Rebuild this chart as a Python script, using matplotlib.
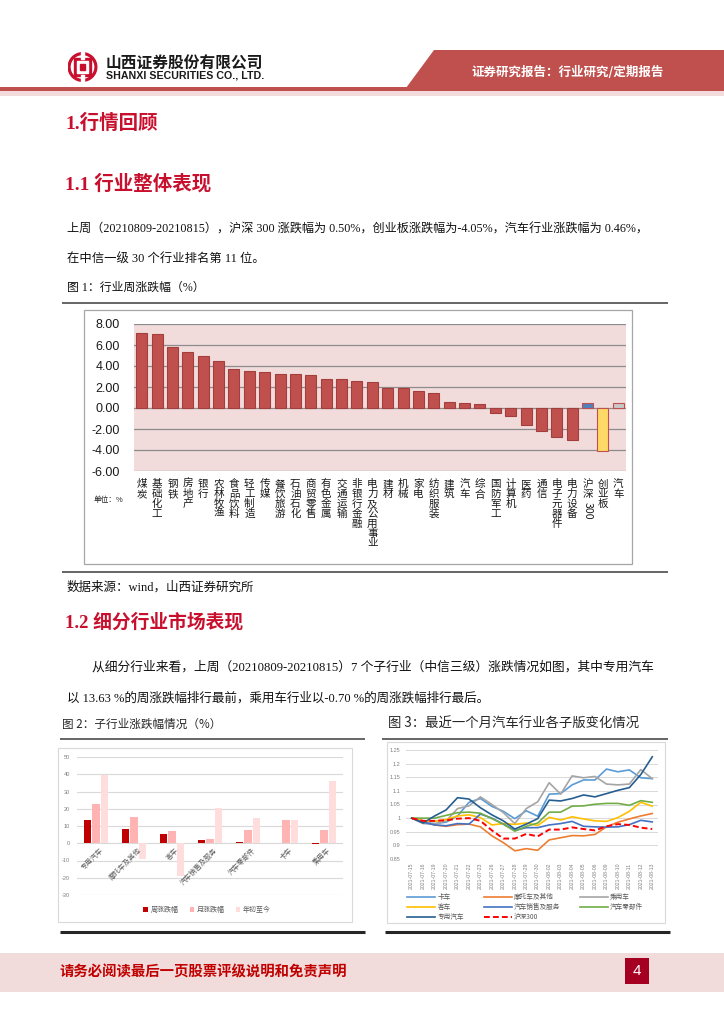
import matplotlib
matplotlib.use("Agg")
import matplotlib.pyplot as plt
from matplotlib.patches import Rectangle, Polygon, Circle
from matplotlib.lines import Line2D

W, H = 724, 1024
CJK = "Noto Sans CJK SC"
SERIF = ["Liberation Serif", CJK]
SANS = ["Liberation Sans", CJK]
plt.rcParams["font.family"] = SANS
plt.rcParams["axes.unicode_minus"] = False

# ---- data: figure 1, weekly change by CITIC level-1 industry (%)
industries = ["煤炭", "基础化工", "钢铁", "房地产", "银行", "农林牧渔", "食品饮料", "轻工制造",
              "传媒", "餐饮旅游", "石油石化", "商贸零售", "有色金属", "交通运输", "非银行金融",
              "电力及公用事业", "建材", "机械", "家电", "纺织服装", "建筑", "汽车", "综合",
              "国防军工", "计算机", "医药", "通信", "电子元器件", "电力设备", "沪深300", "创业板", "汽车"]
weekly_pct = [7.16, 7.09, 5.82, 5.31, 4.93, 4.49, 3.72, 3.53, 3.40, 3.25, 3.25, 3.18, 2.80, 2.74,
              2.58, 2.48, 1.91, 1.88, 1.65, 1.46, 0.60, 0.46, 0.38, -0.45, -0.76, -1.62, -2.16,
              -2.77, -3.02, 0.50, -4.05, 0.46]
fig1_ticks = [8.0, 6.0, 4.0, 2.0, 0.0, -2.0, -4.0, -6.0]

# ---- data: figure 2, sub-industry change (%)
sub_industries = ["专用汽车", "摩托车及其他", "客车", "汽车销售及服务", "汽车零部件", "卡车", "乘用车"]
sub_week = [13.63, 8.3, 5.4, 1.7, 0.9, 0.4, -0.70]
sub_month = [22.8, 15.5, 7.3, 2.3, 7.5, 13.7, 7.9]
sub_ytd = [39.3, -9.1, -19.1, 20.3, 14.5, 13.7, 36.0]
fig2_ticks = [50, 40, 30, 20, 10, 0, -10, -20, -30]

# ---- data: figure 3, sub-index levels over the last month
dates = ["2021-07-15", "2021-07-16", "2021-07-19", "2021-07-20", "2021-07-21", "2021-07-22",
         "2021-07-23", "2021-07-26", "2021-07-27", "2021-07-28", "2021-07-29", "2021-07-30",
         "2021-08-02", "2021-08-03", "2021-08-04", "2021-08-05", "2021-08-06", "2021-08-09",
         "2021-08-10", "2021-08-11", "2021-08-12", "2021-08-13"]
truck = [1.000, 0.985, 0.980, 0.985, 1.008, 1.058, 1.072, 1.043, 1.025, 0.998, 1.027, 1.007,
         1.088, 1.090, 1.122, 1.140, 1.140, 1.180, 1.170, 1.177, 1.148, 1.145]
moto = [1.000, 0.985, 0.975, 0.970, 0.976, 0.978, 0.968, 0.935, 0.910, 0.880, 0.888, 0.882,
        0.920, 0.928, 0.936, 0.935, 0.940, 0.968, 0.985, 0.997, 1.008, 1.017]
passenger = [1.000, 0.980, 0.978, 0.990, 1.035, 1.045, 1.078, 1.050, 1.020, 0.980, 1.035, 1.060,
             1.130, 1.088, 1.155, 1.148, 1.153, 1.125, 1.122, 1.125, 1.178, 1.145]
bus = [1.000, 0.990, 0.988, 0.995, 1.008, 1.012, 1.002, 0.975, 0.980, 0.977, 0.982, 0.973,
       1.003, 0.993, 1.005, 0.997, 0.990, 0.988, 1.002, 1.025, 1.058, 1.044]
sales = [1.000, 0.985, 0.975, 0.972, 0.980, 0.978, 1.015, 1.000, 0.978, 0.955, 0.965, 0.965,
         0.975, 0.980, 0.988, 0.970, 0.968, 0.967, 0.968, 0.976, 0.992, 0.986]
parts = [1.000, 1.000, 1.000, 1.010, 1.020, 1.022, 1.018, 0.998, 0.978, 0.952, 0.970, 0.982,
         1.022, 1.022, 1.044, 1.045, 1.051, 1.054, 1.054, 1.047, 1.064, 1.058]
special = [1.000, 0.982, 1.008, 1.030, 1.075, 1.070, 1.038, 1.012, 0.990, 0.960, 0.978, 0.998,
           1.066, 1.063, 1.072, 1.085, 1.078, 1.090, 1.102, 1.112, 1.160, 1.225]
hs300 = [1.000, 0.990, 0.990, 0.992, 0.998, 1.000, 0.990, 0.955, 0.925, 0.925, 0.942, 0.933,
         0.958, 0.958, 0.966, 0.960, 0.955, 0.970, 0.978, 0.975, 0.965, 0.960]
fig3_ticks = [0.85, 0.9, 0.95, 1.0, 1.05, 1.1, 1.15, 1.2, 1.25]
fig3_tick_labels = ["0.85", "0.9", "0.95", "1", "1.05", "1.1", "1.15", "1.2", "1.25"]

RED = "#C0504D"
CRIMSON = "#C8102E"

fig = plt.figure(figsize=(W / 100, H / 100), dpi=100)
renderer = fig.canvas.get_renderer()


def box(x0, y0, x1, y1):
    return [x0 / W, 1 - y1 / H, (x1 - x0) / W, (y1 - y0) / H]


def ftext(x, y, s, **kw):
    kw.setdefault("va", "center")
    return fig.text(x / W, 1 - y / H, s, **kw)


def fit_text(x0, x1, y, s, size, **kw):
    t = ftext(x0, y, s, fontsize=size, **kw)
    w = t.get_window_extent(renderer).width
    t.set_fontsize(size * (x1 - x0) / w)
    return t


def hline(x0, x1, y, color, lw):
    fig.add_artist(Line2D([x0 / W, x1 / W], [1 - y / H, 1 - y / H], color=color, lw=lw,
                          transform=fig.transFigure, solid_capstyle="butt"))


def rect(x0, y0, x1, y1, **kw):
    kw.setdefault("zorder", -1)
    fig.add_artist(Rectangle((x0 / W, 1 - y1 / H), (x1 - x0) / W, (y1 - y0) / H,
                             transform=fig.transFigure, **kw))


# ---- page header
logo = fig.add_axes(box(67, 52, 98, 82))
logo.set_xlim(-1.05, 1.05)
logo.set_ylim(-1.05, 1.05)
logo.set_aspect("equal")
logo.axis("off")
logo.add_patch(Circle((0, 0), 1.0, color="#C8102E"))
logo.add_patch(Circle((0, 0), 0.78, color="white"))
logo.add_patch(Rectangle((-0.6, -0.6), 1.2, 1.2, color="#C8102E"))
logo.add_patch(Rectangle((-0.4, -0.4), 0.8, 0.8, color="white"))
logo.add_patch(Rectangle((-0.2, -0.2), 0.4, 0.4, color="#C8102E"))
logo.add_patch(Rectangle((-0.12, 0.55), 0.24, 0.5, color="white"))
logo.add_patch(Rectangle((-0.12, -1.05), 0.24, 0.5, color="white"))

fit_text(106, 263, 64, "山西证券股份有限公司", 11, family=CJK, fontweight="bold", color="#1a1a1a")
fit_text(106, 263, 76, "SHANXI SECURITIES CO., LTD.", 7, family="Liberation Sans",
         fontweight="bold", color="#1a1a1a")

fig.add_artist(Polygon([(434 / W, 1 - 50 / H), (1, 1 - 50 / H), (1, 1 - 88 / H), (406 / W, 1 - 88 / H)],
                       closed=True, transform=fig.transFigure, color=RED, lw=0))
fit_text(471, 664, 72, "证券研究报告：行业研究/定期报告", 9.5, family=CJK, fontweight="bold",
         color="white")
rect(0, 87, W, 91, color=RED, lw=0, zorder=1)
rect(0, 91, W, 96, color="#F2DCDB", lw=0)

# ---- section text
ftext(65, 123, "1.行情回顾", fontsize=14, family=SERIF, fontweight="bold", color=CRIMSON)
ftext(65, 184, "1.1 行业整体表现", fontsize=14, family=SERIF, fontweight="bold", color=CRIMSON)
fit_text(67, 650, 230, "上周（20210809-20210815），沪深 300 涨跌幅为 0.50%，创业板涨跌幅为-4.05%，"
         "汽车行业涨跌幅为 0.46%，", 9.5, family=SERIF, color="#111111")
fit_text(67, 265, 260, "在中信一级 30 个行业排名第 11 位。", 9.5, family=SERIF, color="#111111")
fit_text(67, 205, 288, "图 1：行业周涨跌幅（%）", 9.5, family=SERIF, color="#111111")
hline(62, 668, 303, "#595959", 1.3)

# ---- figure 1
rect(84, 310, 632, 564, facecolor="white", edgecolor="#A6A6A6", lw=0.9)
ax1 = fig.add_axes(box(134, 324, 626, 471))
colors1 = [RED] * len(industries)
colors1[-3] = "#4F81BD"
colors1[-2] = "#FFD966"
colors1[-1] = "#C8C8C8"
edges1 = ["#A23E3B"] * (len(industries) - 3) + [RED] * 3
x1 = list(range(len(industries)))
ax1.bar(x1, weekly_pct, width=0.72, color=colors1, edgecolor=edges1, linewidth=0.8, zorder=3)
ax1.set_facecolor("#F2DCDB")
ax1.set_xlim(-0.5, len(industries) - 0.5)
ax1.set_ylim(-6, 8)
ax1.set_yticks(fig1_ticks)
ax1.set_yticklabels([f"{v:.2f}" for v in fig1_ticks], fontsize=9, color="#1a1a1a")
ax1.yaxis.grid(True, color="#8C8C8C", lw=0.9)
ax1.set_axisbelow(True)
for s in ax1.spines.values():
    s.set_visible(False)
labels1 = ["\n".join(n) for n in industries]
labels1[-3] = "沪\n深"
ax1.set_xticks(x1)
ax1.set_xticklabels(labels1, fontsize=7.6, family=CJK, linespacing=0.98, va="top", color="#1a1a1a")
ax1.tick_params(axis="both", length=0)
ax1.tick_params(axis="x", pad=6)
ax1.tick_params(axis="y", pad=10)
ax1.text(len(industries) - 3, -0.268, "300", transform=ax1.get_xaxis_transform(), rotation=270,
         ha="center", va="center", fontsize=7.6, family=CJK, color="#1a1a1a")
ftext(94, 500, "单位：%", fontsize=5.5, family=CJK, color="#1a1a1a")

hline(62, 668, 572, "#595959", 1.3)
fit_text(67, 256, 587, "数据来源：wind，山西证券研究所", 9.5, family=SERIF, color="#111111")

ftext(65, 622, "1.2 细分行业市场表现", fontsize=13.5, family=SERIF, fontweight="bold", color=CRIMSON)
fit_text(92, 658, 667, "从细分行业来看，上周（20210809-20210815）7 个子行业（中信三级）涨跌情况如图，"
         "其中专用汽车", 9.5, family=SERIF, color="#111111")
fit_text(67, 493, 698, "以 13.63 %的周涨跌幅排行最前，乘用车行业以-0.70 %的周涨跌幅排行最后。", 9.5,
         family=SERIF, color="#111111")

# ---- figure 2
fit_text(62, 222, 724, "图 2：子行业涨跌幅情况（%）", 9.5, family=CJK, color="#262626")
hline(60, 365, 739, "#595959", 1.3)
rect(58, 748, 352, 922, facecolor="white", edgecolor="#D9D9D9", lw=0.8)
ax2 = fig.add_axes(box(77, 757, 343, 895))
ax2.patch.set_alpha(0)
x2 = list(range(len(sub_industries)))
bw = 0.19
b_week = ax2.bar([i - 0.23 for i in x2], sub_week, width=bw, color="#C00000", zorder=3)
b_month = ax2.bar(x2, sub_month, width=bw, color="#FFB3B3", zorder=3)
b_ytd = ax2.bar([i + 0.23 for i in x2], sub_ytd, width=bw, color="#FFDDDD", zorder=3)
ax2.set_xlim(-0.5, len(sub_industries) - 0.5)
ax2.set_ylim(-30, 50)
ax2.set_yticks(fig2_ticks)
ax2.set_yticklabels([str(v) for v in fig2_ticks], fontsize=4, color="#7F7F7F")
ax2.set_xticks([])
ax2.tick_params(axis="y", length=0, pad=5)
ax2.yaxis.grid(True, color="#D9D9D9", lw=0.8)
ax2.set_axisbelow(True)
for s in ax2.spines.values():
    s.set_visible(False)
for i, name in enumerate(sub_industries):
    ax2.text(i + 0.08, -1.6, name, rotation=45, rotation_mode="anchor", ha="right", va="top",
             fontsize=5, family=CJK, color="#595959")
ax2.legend([b_week, b_month, b_ytd], ["周涨跌幅", "月涨跌幅", "年初至今"], ncol=3, frameon=False,
           loc="center", bbox_to_anchor=(207 / W, 1 - 910 / H), bbox_transform=fig.transFigure,
           prop={"family": CJK, "size": 5}, labelcolor="#595959", handlelength=0.7,
           handleheight=0.7, handletextpad=0.3, columnspacing=1.6)
hline(60, 365, 932, "#262626", 2.2)

# ---- figure 3
fit_text(388, 640, 724, "图 3：最近一个月汽车行业各子版变化情况", 9.5, family=CJK, color="#262626")
hline(382, 668, 739, "#595959", 1.3)
rect(387, 742, 665, 923, facecolor="white", edgecolor="#D9D9D9", lw=0.8)
ax3 = fig.add_axes(box(406, 750, 658, 859))
ax3.patch.set_alpha(0)
x3 = list(range(len(dates)))
ln_truck, = ax3.plot(x3, truck, color="#5B9BD5", lw=1.2, label="卡车")
ln_moto, = ax3.plot(x3, moto, color="#ED7D31", lw=1.2, label="摩托车及其他")
ln_pass, = ax3.plot(x3, passenger, color="#A5A5A5", lw=1.2, label="乘用车")
ln_bus, = ax3.plot(x3, bus, color="#FFC000", lw=1.2, label="客车")
ln_sales, = ax3.plot(x3, sales, color="#4472C4", lw=1.2, label="汽车销售及服务")
ln_parts, = ax3.plot(x3, parts, color="#70AD47", lw=1.2, label="汽车零部件")
ln_special, = ax3.plot(x3, special, color="#255E91", lw=1.2, label="专用汽车")
ln_hs, = ax3.plot(x3, hs300, color="#FF0000", lw=1.4, ls=(0, (3, 1.6)), label="沪深300")
ax3.set_xlim(-0.5, len(dates) - 0.5)
ax3.set_ylim(0.85, 1.25)
ax3.set_yticks(fig3_ticks)
ax3.set_yticklabels(fig3_tick_labels, fontsize=4, color="#7F7F7F")
ax3.set_xticks(x3)
ax3.set_xticklabels(dates, rotation=90, fontsize=3.7, color="#7F7F7F")
ax3.tick_params(axis="both", length=0)
ax3.tick_params(axis="y", pad=4)
ax3.tick_params(axis="x", pad=2.5)
ax3.yaxis.grid(True, color="#D9D9D9", lw=0.7)
ax3.set_axisbelow(True)
for s in ax3.spines.values():
    s.set_visible(False)
order = [ln_truck, ln_bus, ln_special, ln_moto, ln_sales, ln_hs, ln_pass, ln_parts]
ax3.legend(order, [l.get_label() for l in order], ncol=3, frameon=False, loc="upper left",
           bbox_to_anchor=(402 / W, 1 - 888 / H), bbox_transform=fig.transFigure,
           prop={"family": CJK, "size": 4.8}, labelcolor="#595959", handlelength=4.2,
           handletextpad=0.3, columnspacing=3.0, labelspacing=0.3, borderpad=0.3)
hline(385, 670, 932, "#262626", 2.2)

# ---- footer
rect(0, 953, W, 992, color="#F2DCDB", lw=0)
fit_text(60, 349, 972, "请务必阅读最后一页股票评级说明和免责声明", 10.5, family=CJK,
         fontweight="bold", color="#C00000")
rect(625, 958, 649, 984, color="#A50021", lw=0, zorder=0.5)
ftext(637, 971, "4", fontsize=11, ha="center", color="white")

fig.savefig("out.png", dpi=100)
